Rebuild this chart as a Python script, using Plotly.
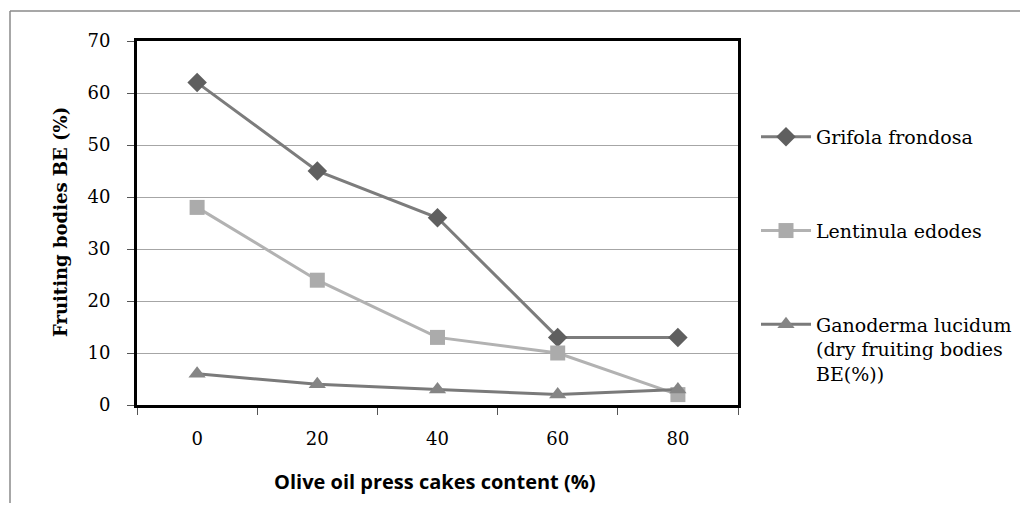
import plotly.graph_objects as go

# Data
oil_content = [0, 20, 40, 60, 80]
x_labels = ["0", "20", "40", "60", "80"]
y_ticks = [0, 10, 20, 30, 40, 50, 60, 70]
grifola = [62, 45, 36, 13, 13]
lentinula = [38, 24, 13, 10, 2]
ganoderma = [6, 4, 3, 2, 3]
names = ["Grifola frondosa", "Lentinula edodes",
         "Ganoderma lucidum<br>(dry fruiting bodies<br>BE(%))"]

# page has an 8px body margin; figure sized to fit the 1028x511 window
OFF = 8
W, H = 1028 - 2 * OFF, 511 - 2 * OFF
L, R, T, B = 137 - OFF, 738 - OFF, 41 - OFF, 405 - OFF

fig = go.Figure()
serif = "DejaVu Serif, Liberation Serif, serif"

fig.add_trace(go.Scatter(x=oil_content, y=grifola, name=names[0], mode="lines+markers",
                         line=dict(color="#7c7c7c", width=3),
                         marker=dict(symbol="diamond", size=15, color="#5f5f5f"),
                         legendgroup="a"))
fig.add_trace(go.Scatter(x=oil_content, y=lentinula, name=names[1], mode="lines+markers",
                         line=dict(color="#b2b2b2", width=3),
                         marker=dict(symbol="square", size=15, color="#ababab"),
                         legendgroup="b"))
fig.add_trace(go.Scatter(x=oil_content, y=ganoderma, name=names[2], mode="lines+markers",
                         line=dict(color="#7a7a7a", width=3),
                         marker=dict(symbol="triangle-up", size=15, color="#858585"),
                         legendgroup="c"))


def px_x(p):
    return (p - OFF - L) / (R - L)


def px_y(p):
    return (B - (p - OFF)) / (B - T)


fig.update_layout(
    width=W, height=H,
    margin=dict(l=L, r=W - R, t=T, b=H - B, autoexpand=False),
    paper_bgcolor="white", plot_bgcolor="white",
    font=dict(family=serif, size=18, color="black"),
    showlegend=True,
    legend=dict(x=px_x(756), y=px_y(118), xanchor="left", yanchor="top",
                font=dict(family=serif, size=19, color="black"),
                tracegroupgap=66, itemwidth=50, bgcolor="rgba(0,0,0,0)",
                valign="top"),
    xaxis=dict(range=[-10, 90], tickmode="array", tickvals=oil_content, ticktext=x_labels,
               ticks="", showgrid=False, zeroline=False,
               showline=True, linecolor="black", linewidth=3, mirror=True,
               ticklabelstandoff=15,
               tickfont=dict(family=serif, size=18),
               minor=dict(tick0=-10, dtick=20, ticks="outside", ticklen=7,
                          tickcolor="#555", tickwidth=1, showgrid=False)),
    yaxis=dict(range=[0, 70], tickmode="array", tickvals=y_ticks,
               ticks="outside", ticklen=7, tickcolor="#555", tickwidth=1,
               showgrid=True, gridcolor="#a6a6a6", gridwidth=1, zeroline=False,
               showline=True, linecolor="black", linewidth=3, mirror=True,
               ticklabelstandoff=13,
               tickfont=dict(family=serif, size=18)),
    shapes=[
        dict(type="line", xref="paper", yref="paper", x0=px_x(10), x1=px_x(1040),
             y0=px_y(11), y1=px_y(11), line=dict(color="#8a8a8a", width=1.5)),
        dict(type="line", xref="paper", yref="paper", x0=px_x(10), x1=px_x(10),
             y0=px_y(11), y1=px_y(530), line=dict(color="#8a8a8a", width=1.5)),
    ],
    annotations=[
        dict(text="<b>Olive oil press cakes content (%)</b>", xref="paper", yref="paper",
             x=px_x(435), y=px_y(482), xanchor="center", yanchor="middle",
             showarrow=False, font=dict(family="Open Sans, Liberation Sans, sans-serif",
                                        size=20, color="black")),
        dict(text="<b>Fruiting bodies BE (%)</b>", xref="paper", yref="paper",
             x=px_x(60), y=px_y(222), xanchor="center", yanchor="middle", textangle=-90,
             showarrow=False, font=dict(family=serif, size=18, color="black")),
    ],
)

fig.write_html("out.html")
